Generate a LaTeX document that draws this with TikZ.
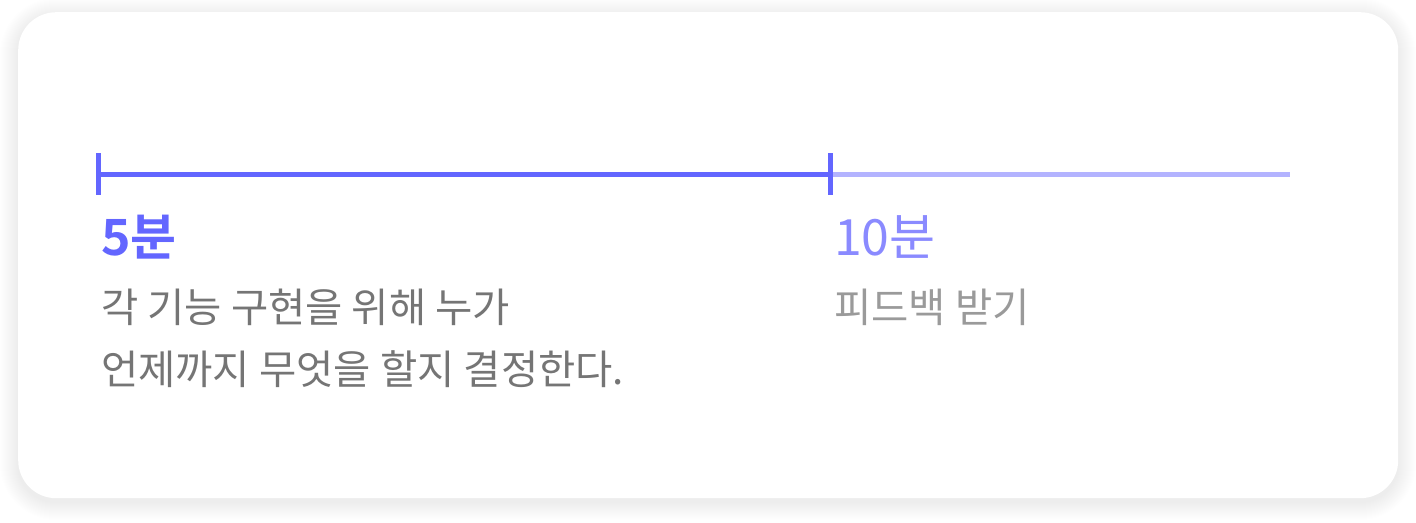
\documentclass[tikz,border=0pt]{standalone}
\usepackage{fontspec}
\newfontfamily\cjk{Noto Sans CJK KR}[BoldFont={Noto Sans CJK KR Bold}]
\definecolor{accent}{HTML}{6366FF}
\definecolor{accentlight}{HTML}{B3B3FF}
\definecolor{accentmid}{HTML}{8A8AFF}
\definecolor{bodygray}{HTML}{757575}
\definecolor{lightgray}{HTML}{9A9A9A}
\tikzset{
  card/.style={fill=white, rounded corners=38pt},
  bar/.style={line width=5pt},
  tick/.style={line width=5pt, accent},
  title/.style={anchor=base west, inner sep=0pt, font=\cjk\fontsize{50}{56}\selectfont},
  body/.style={anchor=base west, inner sep=0pt, align=left, font=\cjk\fontsize{40.5}{62}\selectfont}
}
\begin{document}
\begin{tikzpicture}[x=1pt,y=-1pt]
\useasboundingbox (0,0) rectangle (1416,522);
\fill[white] (0,0) rectangle (1416,522);
\foreach \i in {1,...,18}{
  \fill[black, opacity=0.004, rounded corners={38pt+\i pt}] (18-\i,12-\i+4) rectangle (1398+\i,498+\i+4);
}
\node[card, minimum width=1380pt, minimum height=486pt, inner sep=0pt, anchor=north west] (card) at (18,12) {};
\coordinate (a) at (98,174);
\coordinate (b) at (830,174);
\coordinate (c) at (1290,174);
\draw[bar, accentlight] (b) -- (c);
\draw[bar, accent] (a) -- (b);
\draw[tick] (98,153) -- (98,195);
\draw[tick] (830,153) -- (830,195);
\node[title, text=accent] (t1) at (101,255) {\bfseries 5분};
\node[title, text=accentmid] (t2) at (834,255) {10분};
\node[body, text=bodygray] (d1) at (101,384) {각 기능 구현을 위해 누가\\언제까지 무엇을 할지 결정한다.};
\node[body, text=lightgray] (d2) at (834,322) {피드백 받기};
\end{tikzpicture}
\end{document}
